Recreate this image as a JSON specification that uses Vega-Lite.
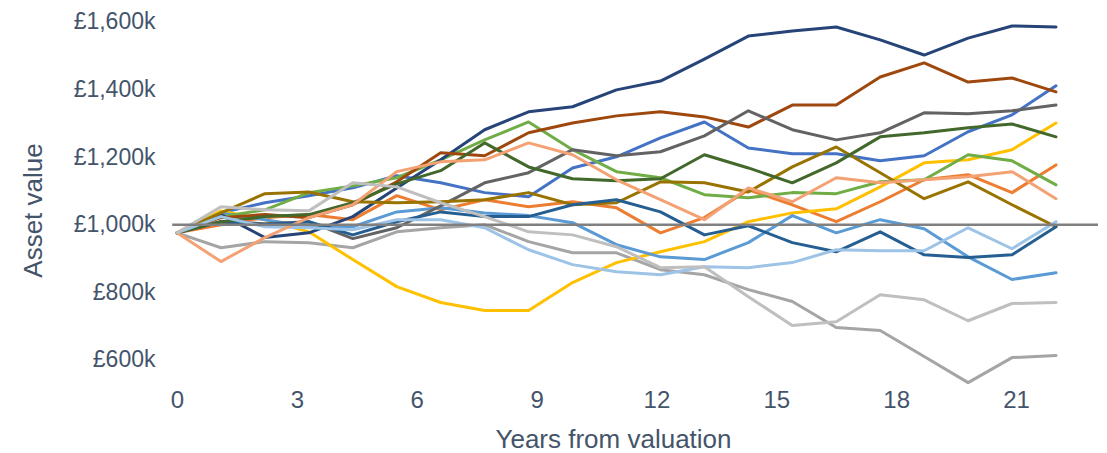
{
  "$schema": "https://vega.github.io/schema/vega-lite/v6.json",
  "width": 879,
  "height": 382,
  "autosize": {"type": "none"},
  "padding": {"left": 177, "top": 5, "right": 51, "bottom": 66},
  "background": "white",
  "config": {"view": {"stroke": null}, "font": "Liberation Sans"},
  "layer": [
    {
      "data": {
        "values": [
          {"x": 0, "s1": 976, "s2": 976, "s3": 976, "s4": 976, "s5": 976, "s6": 976, "s7": 976, "s8": 976, "s9": 976, "s10": 976, "s11": 976, "s12": 976, "s13": 976, "s14": 976, "s15": 976},
          {"x": 1.1, "s1": 1035, "s2": 1000, "s3": 932, "s4": 1041, "s5": 1035, "s6": 1024, "s7": 1030, "s8": 1021, "s9": 1009, "s10": 1035, "s11": 1009, "s12": 1009, "s13": 1024, "s14": 891, "s15": 1053},
          {"x": 2.2, "s1": 1065, "s2": 1021, "s3": 950, "s4": 1015, "s5": 1015, "s6": 1044, "s7": 962, "s8": 1030, "s9": 1003, "s10": 1092, "s11": 1000, "s12": 1024, "s13": 994, "s14": 962, "s15": 1044},
          {"x": 3.3, "s1": 1086, "s2": 1030, "s3": 947, "s4": 979, "s5": 994, "s6": 1095, "s7": 976, "s8": 1021, "s9": 1009, "s10": 1097, "s11": 1009, "s12": 1030, "s13": 991, "s14": 1021, "s15": 1041},
          {"x": 4.4, "s1": 1109, "s2": 1015, "s3": 932, "s4": 897, "s5": 994, "s6": 1115, "s7": 1024, "s8": 1059, "s9": 959, "s10": 1068, "s11": 970, "s12": 1065, "s13": 985, "s14": 1059, "s15": 1124},
          {"x": 5.5, "s1": 1145, "s2": 1086, "s3": 979, "s4": 817, "s5": 1038, "s6": 1139, "s7": 1109, "s8": 1127, "s9": 991, "s10": 1065, "s11": 1009, "s12": 1121, "s13": 1015, "s14": 1157, "s15": 1112},
          {"x": 6.6, "s1": 1124, "s2": 1044, "s3": 991, "s4": 770, "s5": 1050, "s6": 1192, "s7": 1192, "s8": 1213, "s9": 1056, "s10": 1068, "s11": 1038, "s12": 1160, "s13": 1015, "s14": 1186, "s15": 1065},
          {"x": 7.7, "s1": 1095, "s2": 1074, "s3": 1000, "s4": 746, "s5": 1035, "s6": 1251, "s7": 1281, "s8": 1204, "s9": 1124, "s10": 1074, "s11": 1024, "s12": 1242, "s13": 991, "s14": 1192, "s15": 1024},
          {"x": 8.8, "s1": 1083, "s2": 1053, "s3": 950, "s4": 746, "s5": 1027, "s6": 1304, "s7": 1334, "s8": 1272, "s9": 1154, "s10": 1095, "s11": 1024, "s12": 1171, "s13": 926, "s14": 1242, "s15": 979},
          {"x": 9.9, "s1": 1168, "s2": 1068, "s3": 917, "s4": 829, "s5": 1006, "s6": 1222, "s7": 1349, "s8": 1301, "s9": 1222, "s10": 1059, "s11": 1059, "s12": 1136, "s13": 882, "s14": 1207, "s15": 970},
          {"x": 11, "s1": 1201, "s2": 1050, "s3": 917, "s4": 888, "s5": 941, "s6": 1157, "s7": 1399, "s8": 1322, "s9": 1204, "s10": 1065, "s11": 1074, "s12": 1130, "s13": 861, "s14": 1133, "s15": 935},
          {"x": 12.1, "s1": 1257, "s2": 976, "s3": 867, "s4": 920, "s5": 905, "s6": 1139, "s7": 1425, "s8": 1334, "s9": 1216, "s10": 1127, "s11": 1038, "s12": 1136, "s13": 852, "s14": 1074, "s15": 873},
          {"x": 13.2, "s1": 1304, "s2": 1021, "s3": 852, "s4": 950, "s5": 897, "s6": 1089, "s7": 1490, "s8": 1319, "s9": 1263, "s10": 1124, "s11": 970, "s12": 1207, "s13": 876, "s14": 1015, "s15": 876},
          {"x": 14.3, "s1": 1227, "s2": 1103, "s3": 808, "s4": 1009, "s5": 947, "s6": 1080, "s7": 1558, "s8": 1289, "s9": 1337, "s10": 1097, "s11": 997, "s12": 1168, "s13": 873, "s14": 1109, "s15": 787},
          {"x": 15.4, "s1": 1210, "s2": 1059, "s3": 773, "s4": 1035, "s5": 1027, "s6": 1095, "s7": 1573, "s8": 1354, "s9": 1281, "s10": 1171, "s11": 947, "s12": 1124, "s13": 888, "s14": 1068, "s15": 702},
          {"x": 16.5, "s1": 1210, "s2": 1009, "s3": 696, "s4": 1047, "s5": 976, "s6": 1092, "s7": 1585, "s8": 1354, "s9": 1251, "s10": 1230, "s11": 920, "s12": 1183, "s13": 926, "s14": 1139, "s15": 713},
          {"x": 17.6, "s1": 1189, "s2": 1068, "s3": 687, "s4": 1112, "s5": 1015, "s6": 1127, "s7": 1547, "s8": 1437, "s9": 1272, "s10": 1154, "s11": 979, "s12": 1260, "s13": 923, "s14": 1124, "s15": 793},
          {"x": 18.7, "s1": 1204, "s2": 1133, "s3": 610, "s4": 1183, "s5": 988, "s6": 1133, "s7": 1502, "s8": 1479, "s9": 1331, "s10": 1077, "s11": 911, "s12": 1272, "s13": 923, "s14": 1133, "s15": 778},
          {"x": 19.8, "s1": 1275, "s2": 1148, "s3": 533, "s4": 1192, "s5": 905, "s6": 1207, "s7": 1552, "s8": 1422, "s9": 1328, "s10": 1127, "s11": 903, "s12": 1287, "s13": 991, "s14": 1142, "s15": 716},
          {"x": 20.9, "s1": 1325, "s2": 1095, "s3": 607, "s4": 1222, "s5": 838, "s6": 1189, "s7": 1588, "s8": 1434, "s9": 1337, "s10": 1059, "s11": 911, "s12": 1298, "s13": 929, "s14": 1157, "s15": 767},
          {"x": 22, "s1": 1411, "s2": 1177, "s3": 613, "s4": 1301, "s5": 858, "s6": 1118, "s7": 1585, "s8": 1393, "s9": 1354, "s10": 994, "s11": 994, "s12": 1260, "s13": 1009, "s14": 1077, "s15": 770}
        ]
      },
      "transform": [
        {"fold": ["s1", "s2", "s3", "s4", "s5", "s6", "s7", "s8", "s9", "s10", "s11", "s12", "s13", "s14", "s15"], "as": ["s", "v"]}
      ],
      "mark": {"type": "line", "strokeWidth": 3, "strokeJoin": "round", "strokeCap": "round"},
      "encoding": {
        "x": {
          "field": "x",
          "type": "quantitative",
          "scale": {"domain": [0, 22], "nice": false, "zero": false},
          "axis": {
            "title": "Years from valuation",
            "values": [0, 3, 6, 9, 12, 15, 18, 21],
            "domain": false,
            "ticks": false,
            "tickSize": 0,
            "grid": false,
            "labelFlush": false,
            "labelPadding": 1,
            "labelFontSize": 24,
            "labelColor": "#44546A",
            "labelFont": "Liberation Sans",
            "titleFont": "Liberation Sans",
            "titleFontSize": 26,
            "titleFontWeight": "normal",
            "titleColor": "#44546A",
            "titleX": 436,
            "titleY": 60,
            "titleAlign": "center",
            "titleBaseline": "alphabetic"
          }
        },
        "y": {
          "field": "v",
          "type": "quantitative",
          "scale": {"domain": [520, 1650], "nice": false, "zero": false},
          "axis": {
            "title": "Asset value",
            "values": [600, 800, 1000, 1200, 1400, 1600],
            "labelExpr": "'£' + format(datum.value, ',') + 'k'",
            "domain": false,
            "ticks": false,
            "tickSize": 0,
            "grid": false,
            "labelFlush": false,
            "labelPadding": 22,
            "labelFontSize": 23,
            "labelColor": "#44546A",
            "labelFont": "Liberation Sans",
            "titleFont": "Liberation Sans",
            "titleFontSize": 26,
            "titleFontWeight": "normal",
            "titleColor": "#44546A",
            "titleAngle": -90,
            "titleX": -136,
            "titleY": 205,
            "titleAlign": "center",
            "titleBaseline": "alphabetic"
          }
        },
        "color": {
          "field": "s",
          "type": "nominal",
          "scale": {
            "domain": ["s1", "s2", "s3", "s4", "s5", "s6", "s7", "s8", "s9", "s10", "s11", "s12", "s13", "s14", "s15"],
            "range": ["#4472C4", "#ED7D31", "#A5A5A5", "#FFC000", "#5B9BD5", "#70AD47", "#264478", "#9E480E", "#636363", "#997300", "#255E91", "#43682B", "#9DC3E6", "#F4A274", "#BFBFBF"]
          },
          "legend": null
        }
      }
    },
    {
      "data": {"values": [{"x": -0.12, "v": 1000}, {"x": 23.05, "v": 1000}]},
      "mark": {"type": "line", "color": "#808080", "strokeWidth": 2.5},
      "encoding": {
        "x": {"field": "x", "type": "quantitative", "scale": {"domain": [0, 22], "nice": false, "zero": false}},
        "y": {"field": "v", "type": "quantitative", "scale": {"domain": [520, 1650], "nice": false, "zero": false}}
      }
    }
  ]
}
